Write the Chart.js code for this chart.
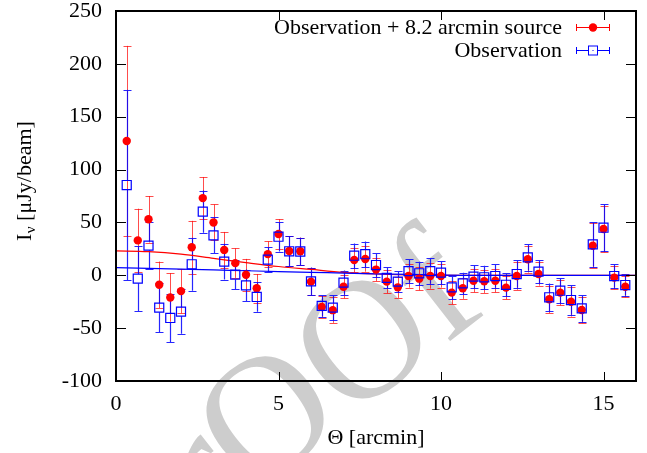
<!DOCTYPE html>
<html>
<head>
<meta charset="utf-8">
<script src="https://cdn.jsdelivr.net/npm/chart.js@4.4.0/dist/chart.umd.min.js"></script>
<style>
  html, body { margin: 0; padding: 0; background: #fff; }
  #wrap { width: 647px; height: 453px; }
</style>
</head>
<body>
<div id="wrap"><canvas id="chart" width="647" height="453"></canvas></div>
<script>
// radial profile, Theta in arcmin
const theta = [0.33, 0.67, 1.00, 1.33, 1.67, 2.00, 2.33, 2.67, 3.00, 3.33, 3.67, 4.00,
  4.33, 4.67, 5.00, 5.33, 5.67, 6.00, 6.33, 6.67, 7.00, 7.33, 7.67, 8.00,
  8.33, 8.67, 9.00, 9.33, 9.67, 10.00, 10.33, 10.67, 11.00, 11.33, 11.67, 12.00,
  12.33, 12.67, 13.00, 13.33, 13.67, 14.00, 14.33, 14.67, 15.00, 15.33, 15.67];

// Observation + 8.2 arcmin source (red)
const withSource = [127, 33, 53, -9, -21, -15, 26.5, 73, 50, 24, 11.5, 0.5,
  -12.3, 20, 39, 23, 22.7, -6, -30, -33, -10.8, 14.5, 15.4, 5.4,
  -6, -11.4, -0.7, -3.2, -0.7, -0.7, -16.4, -12.3, -5.1, -5.7, -5.1, -11.7,
  -0.7, 15.1, 1.2, -22.7, -16.4, -25, -32.8, 28, 43.8, -2.2, -10.8];
const withSourceErr = [90, 30, 22, 22, 23, 21, 25, 20, 17, 17, 14, 15,
  13.5, 12, 14, 14, 13, 13, 10, 12, 11, 11.5, 12, 11,
  11, 10, 11, 11, 12, 11, 11, 10, 11, 11, 11, 11,
  13, 12.5, 11, 13, 12, 14, 12.5, 21, 22, 11, 10];

// Observation (blue)
const observation = [85.4, -3.2, 28, -30.6, -40.4, -34.4, 10.4, 60.2, 37.8, 12.9, 0.6, -9.6,
  -20.5, 14.8, 36.5, 22.7, 22.5, -5.7, -29, -30.6, -7, 18.5, 19.9, 9.7,
  -2.4, -6, 4, 1.9, 4, 2.5, -11.4, -7.6, -1.3, -1.9, -0.7, -9,
  1.2, 17, 3.4, -20.8, -14.6, -23.4, -31.3, 29.3, 45, -0.7, -9.2];
const observationErr = [90, 31, 22, 23, 23, 21, 25, 20, 17, 17, 14, 15,
  14, 12, 14, 14, 13, 13, 10, 12, 11.5, 11.5, 12, 11,
  10, 10, 11, 11, 12, 11, 11, 10, 11, 11, 11, 11,
  13, 12.5, 11, 13, 12, 14, 12.5, 21, 22, 11, 10];

// model curves
const fitTheta = [0, 1, 2, 3, 4, 5, 6, 7, 8, 9, 10, 11, 16];
const fitWithSource = [23, 22.3, 20, 16, 12, 8.3, 5.5, 2.8, 1.2, 0.4, 0, 0, 0];
const fitObservation = [7.3, 6.6, 5.9, 5.1, 4.3, 3.5, 2.8, 2.1, 1.4, 0.8, 0.3, 0, 0];

const xTicks = [0, 5, 10, 15];
const yTicks = [-100, -50, 0, 50, 100, 150, 200, 250];

const SERIF = '"Liberation Serif", "Times New Roman", serif';
const RED = '#ff0000';
const BLUE = '#0000ff';

function pairs(xs, ys) {
  return xs.map((x, i) => ({ x, y: ys[i] }));
}

// grey "proof" stamp behind the plot
const watermark = {
  id: 'watermark',
  beforeDraw(chart) {
    const ctx = chart.ctx;
    ctx.save();
    ctx.translate(283, 415);
    ctx.rotate(-38 * Math.PI / 180);
    ctx.font = '170px ' + SERIF;
    ctx.fillStyle = '#cdcdcd';
    ctx.textAlign = 'center';
    ctx.textBaseline = 'middle';
    ctx.fillText('PrOOf', 0, 0);
    ctx.restore();
  }
};

const errorBars = {
  id: 'errorBars',
  beforeDatasetsDraw(chart) {
    const { ctx, chartArea: a, scales: { x, y } } = chart;
    ctx.save();
    ctx.beginPath();
    ctx.rect(a.left, a.top, a.right - a.left, a.bottom - a.top);
    ctx.clip();
    const sets = chart.data.datasets.filter(d => d.errors).sort((p, q) => q.order - p.order);
    sets.forEach(ds => {
      ctx.strokeStyle = ds.errorColor;
      ctx.lineWidth = ds.errorWidth;
      ds.data.forEach((p, i) => {
        const px = Math.round(x.getPixelForValue(p.x)) + 0.5;
        const cy = y.getPixelForValue(p.y);
        const top = y.getPixelForValue(p.y + ds.errors[i]);
        const bot = y.getPixelForValue(p.y - ds.errors[i]);
        const gap = ds.errorGap;
        ctx.beginPath();
        if (cy - gap > top) { ctx.moveTo(px, top); ctx.lineTo(px, cy - gap); }
        if (cy + gap < bot) { ctx.moveTo(px, cy + gap); ctx.lineTo(px, bot); }
        ctx.moveTo(px - 4, Math.round(top) + 0.5); ctx.lineTo(px + 4, Math.round(top) + 0.5);
        ctx.moveTo(px - 4, Math.round(bot) + 0.5); ctx.lineTo(px + 4, Math.round(bot) + 0.5);
        ctx.stroke();
      });
    });
    ctx.restore();
  }
};

// gnuplot style box with inward mirrored ticks
const frame = {
  id: 'frame',
  afterDatasetsDraw(chart) {
    const { ctx, chartArea: a, scales: { x, y } } = chart;
    ctx.save();
    ctx.strokeStyle = '#000';
    ctx.lineWidth = 1;
    ctx.beginPath();
    xTicks.forEach(v => {
      const px = Math.round(x.getPixelForValue(v)) + 0.5;
      ctx.moveTo(px, a.bottom); ctx.lineTo(px, a.bottom - 9);
      ctx.moveTo(px, a.top); ctx.lineTo(px, a.top + 9);
    });
    yTicks.forEach(v => {
      const py = Math.round(y.getPixelForValue(v)) + 0.5;
      ctx.moveTo(a.left, py); ctx.lineTo(a.left + 10, py);
      ctx.moveTo(a.right, py); ctx.lineTo(a.right - 10, py);
    });
    ctx.stroke();
    ctx.lineWidth = 2;
    ctx.strokeRect(a.left, a.top, a.right - a.left, a.bottom - a.top);
    ctx.restore();
  }
};

const labels = {
  id: 'labels',
  afterDraw(chart) {
    const { ctx, chartArea: a } = chart;
    ctx.save();
    ctx.fillStyle = '#000';

    // x title
    ctx.font = '22px ' + SERIF;
    ctx.textAlign = 'center';
    ctx.textBaseline = 'alphabetic';
    ctx.fillText('Θ [arcmin]', (a.left + a.right) / 2, 444);

    // y title with subscript nu
    ctx.save();
    ctx.translate(31, 241);
    ctx.rotate(-Math.PI / 2);
    ctx.textAlign = 'left';
    ctx.font = '22px ' + SERIF;
    ctx.fillText('I', 0, 0);
    let w = ctx.measureText('I').width + 0.5;
    ctx.font = '15px ' + SERIF;
    ctx.fillText('ν', w, 4);
    w += ctx.measureText('ν').width;
    ctx.font = '22px ' + SERIF;
    ctx.fillText(' [μJy/beam]', w, 0);
    ctx.restore();

    // legend
    ctx.font = '22px ' + SERIF;
    ctx.textAlign = 'right';
    ctx.fillText('Observation + 8.2 arcmin source', 562, 34);
    ctx.fillText('Observation', 562, 57);

    const rows = [
      { y: 27.5, color: RED, style: 'circle' },
      { y: 50.5, color: BLUE, style: 'rect' }
    ];
    rows.forEach(r => {
      ctx.strokeStyle = r.color;
      ctx.lineWidth = 1;
      ctx.beginPath();
      ctx.moveTo(576, r.y); ctx.lineTo(610, r.y);
      ctx.moveTo(576.5, r.y - 3.5); ctx.lineTo(576.5, r.y + 3.5);
      ctx.moveTo(609.5, r.y - 3.5); ctx.lineTo(609.5, r.y + 3.5);
      ctx.stroke();
      if (r.style === 'circle') {
        ctx.fillStyle = r.color;
        ctx.beginPath();
        ctx.arc(593, r.y, 4.2, 0, Math.PI * 2);
        ctx.fill();
      } else {
        ctx.fillStyle = '#fff';
        ctx.fillRect(588.5, r.y - 4.5, 9, 9);
        ctx.strokeRect(588.5, r.y - 4.5, 9, 9);
        ctx.fillStyle = r.color;
        ctx.fillRect(592.5, r.y - 0.5, 1, 1);
      }
    });
    ctx.restore();
  }
};

function noPad(scale) {
  scale.paddingTop = 0;
  scale.paddingBottom = 0;
  scale.paddingLeft = 0;
  scale.paddingRight = 0;
}

new Chart(document.getElementById('chart'), {
  type: 'scatter',
  data: {
    datasets: [
      {
        label: 'Observation',
        data: pairs(theta, observation),
        errors: observationErr,
        errorColor: 'rgba(0, 0, 255, 0.85)',
        errorWidth: 1.2,
        errorGap: 4.5,
        pointStyle: 'rect',
        pointRadius: 6.4,
        borderColor: BLUE,
        borderWidth: 1.2,
        backgroundColor: 'rgba(0,0,0,0)',
        order: 0
      },
      {
        label: 'Observation + 8.2 arcmin source',
        data: pairs(theta, withSource),
        errors: withSourceErr,
        errorColor: 'rgba(255, 0, 0, 0.7)',
        errorWidth: 1,
        errorGap: 3,
        pointStyle: 'circle',
        pointRadius: 4.2,
        borderWidth: 0,
        backgroundColor: RED,
        order: 1
      },
      {
        type: 'line',
        data: pairs(fitTheta, fitObservation),
        borderColor: BLUE,
        borderWidth: 1.2,
        pointRadius: 0,
        cubicInterpolationMode: 'monotone',
        order: 2
      },
      {
        type: 'line',
        data: pairs(fitTheta, fitWithSource),
        borderColor: RED,
        borderWidth: 1.2,
        pointRadius: 0,
        cubicInterpolationMode: 'monotone',
        order: 3
      }
    ]
  },
  options: {
    responsive: false,
    animation: false,
    layout: { padding: { left: 0, right: 11, top: 11, bottom: 0 } },
    plugins: { legend: { display: false }, tooltip: { enabled: false } },
    scales: {
      x: {
        type: 'linear',
        min: 0,
        max: 16,
        grid: { display: false, drawTicks: false },
        border: { display: false },
        ticks: {
          stepSize: 5,
          includeBounds: false,
          padding: 10,
          color: '#000',
          font: { family: SERIF, size: 22 }
        },
        afterFit(scale) { scale.height = 72; noPad(scale); }
      },
      y: {
        min: -100,
        max: 250,
        grid: { display: false, drawTicks: false },
        border: { display: false },
        ticks: {
          stepSize: 50,
          padding: 14,
          color: '#000',
          font: { family: SERIF, size: 22 }
        },
        afterFit(scale) { scale.width = 116; noPad(scale); }
      }
    }
  },
  plugins: [watermark, errorBars, frame, labels]
});
</script>
</body>
</html>
